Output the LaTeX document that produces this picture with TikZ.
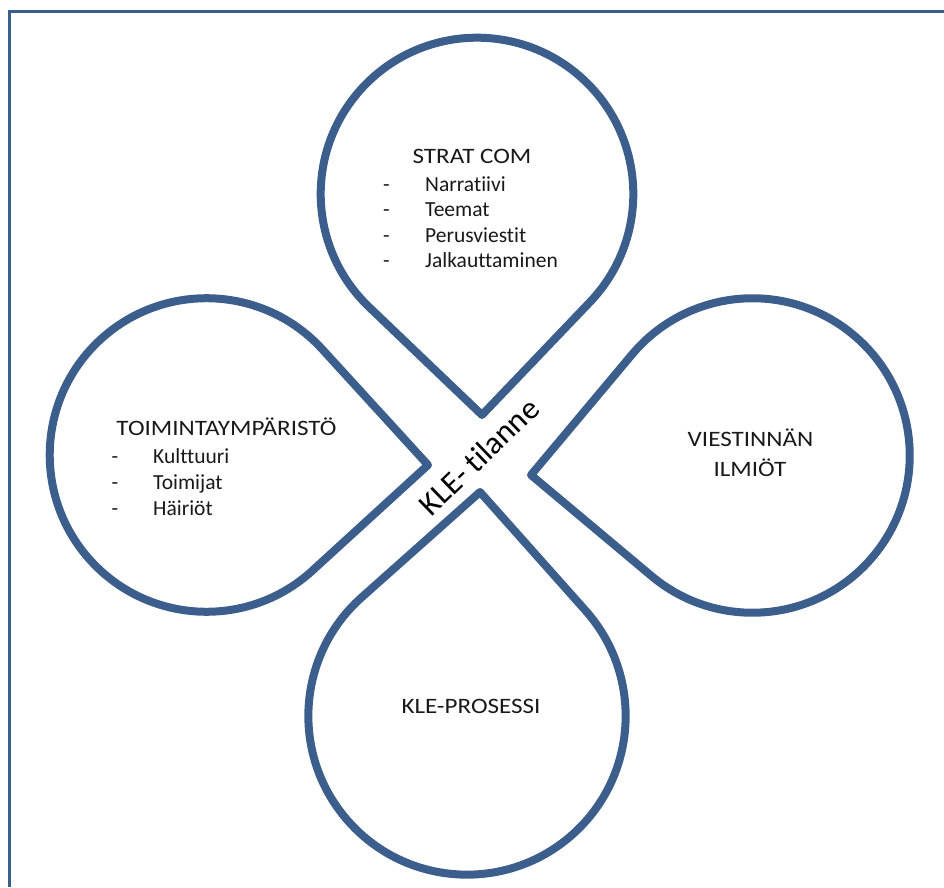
\documentclass[tikz,border=0pt]{standalone}
\usepackage{fontspec}
\setmainfont{Carlito}[Ligatures=NoCommon]
\newfontfamily\capsfont{Carlito}[Ligatures=NoCommon, FakeStretch=1.14]
\usetikzlibrary{calc}
\definecolor{tearblue}{RGB}{59,94,140}
\tikzset{
  tear/.style={draw=tearblue, line width=8pt, line join=round},
  frameline/.style={draw=tearblue, line width=3.5pt},
  lbl/.style={font=\fontsize{21.5}{26}\selectfont, inner sep=0pt, text=black!90},
  caps/.style={font=\capsfont\fontsize{22}{26}\selectfont, inner sep=0pt, text=black!90},
  centerlbl/.style={font=\fontsize{32}{38}\selectfont, inner sep=0pt, text=black},
}
\newcommand{\teardrop}[2]{%
  \draw[tear] let \p1 = ($(#2)-(#1)$),
    \n1 = {veclen(\x1,\y1)/sqrt(2)},
    \n2 = {atan2(\y1,\x1)} in
    (#2) -- ($(#1)+(\n2+45:\n1)$)
    arc[start angle=\n2+45, delta angle=270, radius=\n1] -- cycle;}
\begin{document}
\begin{tikzpicture}[x=1pt,y=1pt]
\useasboundingbox (0,0) rectangle (944,887);
% frame
\coordinate (fb) at (9.5,0);
\coordinate (fc) at (9.5,875.3);
\coordinate (fr) at (944,875.3);
\draw[frameline] (fb) -- (fc) -- (fr);
% teardrop centres and tips
\coordinate (ct) at (477,693);   \coordinate (tt) at (482,472);
\coordinate (cl) at (206.5,432); \coordinate (tl) at (428,422);
\coordinate (cr) at (752.5,431.5); \coordinate (tr) at (531,412);
\coordinate (cb) at (467,171);   \coordinate (tb) at (480,395);
\teardrop{ct}{tt}
\teardrop{cl}{tl}
\teardrop{cr}{tr}
\teardrop{cb}{tb}
% top texts
\node[caps, anchor=base] (strat) at (472,723) {STRAT COM};
\node[lbl, anchor=base] (d1) at (386.5,695.3) {-};
\node[lbl, anchor=base west] (s1) at (425,695.3) {Narratiivi};
\node[lbl, anchor=base] (d2) at (386.5,670) {-};
\node[lbl, anchor=base west] (s2) at (425,670) {Teemat};
\node[lbl, anchor=base] (d3) at (386.5,644) {-};
\node[lbl, anchor=base west] (s3) at (425,644) {Perusviestit};
\node[lbl, anchor=base] (d4) at (386.5,619) {-};
\node[lbl, anchor=base west] (s4) at (425,619) {Jalkauttaminen};
% left texts
\node[caps, anchor=base] (toim) at (226.5,451) {TOIMINTAYMPÄRISTÖ};
\node[lbl, anchor=base] (e1) at (115,424) {-};
\node[lbl, anchor=base west] (t1) at (153,424) {Kulttuuri};
\node[lbl, anchor=base] (e2) at (115,398) {-};
\node[lbl, anchor=base west] (t2) at (153,398) {Toimijat};
\node[lbl, anchor=base] (e3) at (115,372) {-};
\node[lbl, anchor=base west] (t3) at (153,372) {Häiriöt};
% right texts
\node[caps, anchor=base] (vi1) at (750.5,440.3) {VIESTINNÄN};
\node[caps, anchor=base] (vi2) at (750,410) {ILMIÖT};
% bottom text
\node[caps, anchor=base] (kle) at (471,174) {KLE-PROSESSI};
% centre
\node[centerlbl, rotate=44] (tilanne) at (479,430.5) {KLE- tilanne};
\end{tikzpicture}
\end{document}
